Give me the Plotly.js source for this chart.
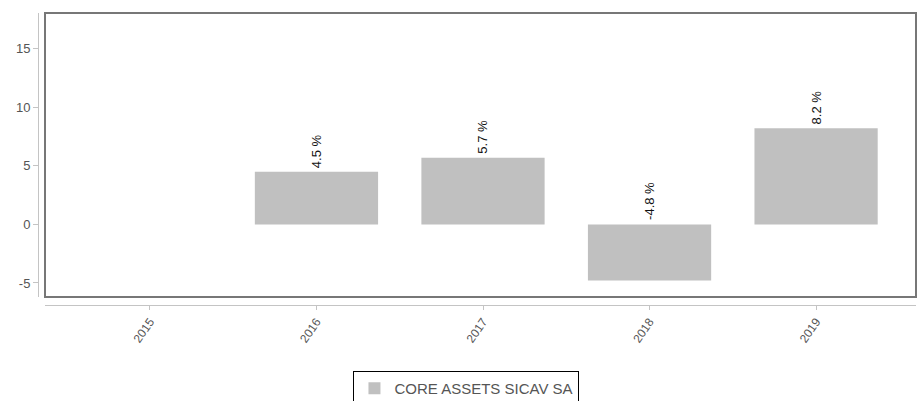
<!DOCTYPE html>
<html><head><meta charset="utf-8">
<script src="https://cdn.plot.ly/plotly-3.0.1.min.js"></script>
<style>html,body{margin:0;padding:0;background:#fff}#chart{width:917px;height:401px}</style>
</head><body><div id="chart"></div>
<script>
const years = ['2015','2016','2017','2018','2019'];
const values = [null, 4.5, 5.7, -4.8, 8.2];
const seriesName = 'CORE ASSETS SICAV SA';
const yTickVals = [-5, 0, 5, 10, 15];
const yTickText = ['-5', '0', '5', '10', '15'];

const FONT = 'Liberation Sans, Arial, sans-serif';
const annotations = [];
years.forEach((y, i) => {
  const v = values[i];
  if (v === null) return;
  annotations.push({
    x: i, y: Math.max(v, 0), xref: 'x', yref: 'y',
    text: v.toFixed(1) + ' %', showarrow: false, textangle: -90,
    xanchor: 'center', yanchor: 'bottom', yshift: 2,
    font: {family: FONT, size: 13, color: '#111'}
  });
});

const trace = {
  type: 'bar', x: years, y: values, name: seriesName,
  marker: {color: '#c0c0c0', line: {width: 0}}, width: 0.74,
  showlegend: true, hoverinfo: 'none'
};

const layout = {
  width: 917, height: 401,
  margin: {l: 38, r: 1, t: 13, b: 96, autoexpand: false},
  paper_bgcolor: '#fff', plot_bgcolor: '#fff',
  font: {family: FONT, size: 12, color: '#555'},
  xaxis: {
    type: 'category', domain: [7/878, 1], range: [-0.63, 4.6],
    anchor: 'free', position: 0, automargin: false,
    showline: true, linecolor: '#c4c4c4', linewidth: 1,
    ticks: 'outside', ticklen: 4, tickcolor: '#c4c4c4',
    tickangle: -55, showgrid: false, zeroline: false,
    tickfont: {family: FONT, size: 12, color: '#555'}
  },
  yaxis: {
    domain: [8/292, 1], range: [-6.2, 18.05],
    anchor: 'free', position: 0, automargin: false,
    showline: true, linecolor: '#c4c4c4', linewidth: 1,
    ticks: 'outside', ticklen: 5, tickcolor: '#c4c4c4',
    tickvals: yTickVals, ticktext: yTickText,
    showgrid: false, zeroline: false,
    tickfont: {family: FONT, size: 13, color: '#555'}
  },
  shapes: [{
    type: 'rect', xref: 'x domain', yref: 'y domain', x0: 0, x1: 1, y0: 0, y1: 1,
    line: {color: '#777', width: 2}, fillcolor: 'rgba(0,0,0,0)'
  }],
  annotations: annotations,
  showlegend: true,
  legend: {
    orientation: 'h', x: 0.488, xanchor: 'center', y: -0.226, yanchor: 'top',
    bordercolor: '#000', borderwidth: 1, bgcolor: '#fff',
    font: {family: FONT, size: 15, color: '#555'}
  }
};

Plotly.newPlot('chart', [trace], layout, {displayModeBar: false, staticPlot: true});
</script></body></html>
